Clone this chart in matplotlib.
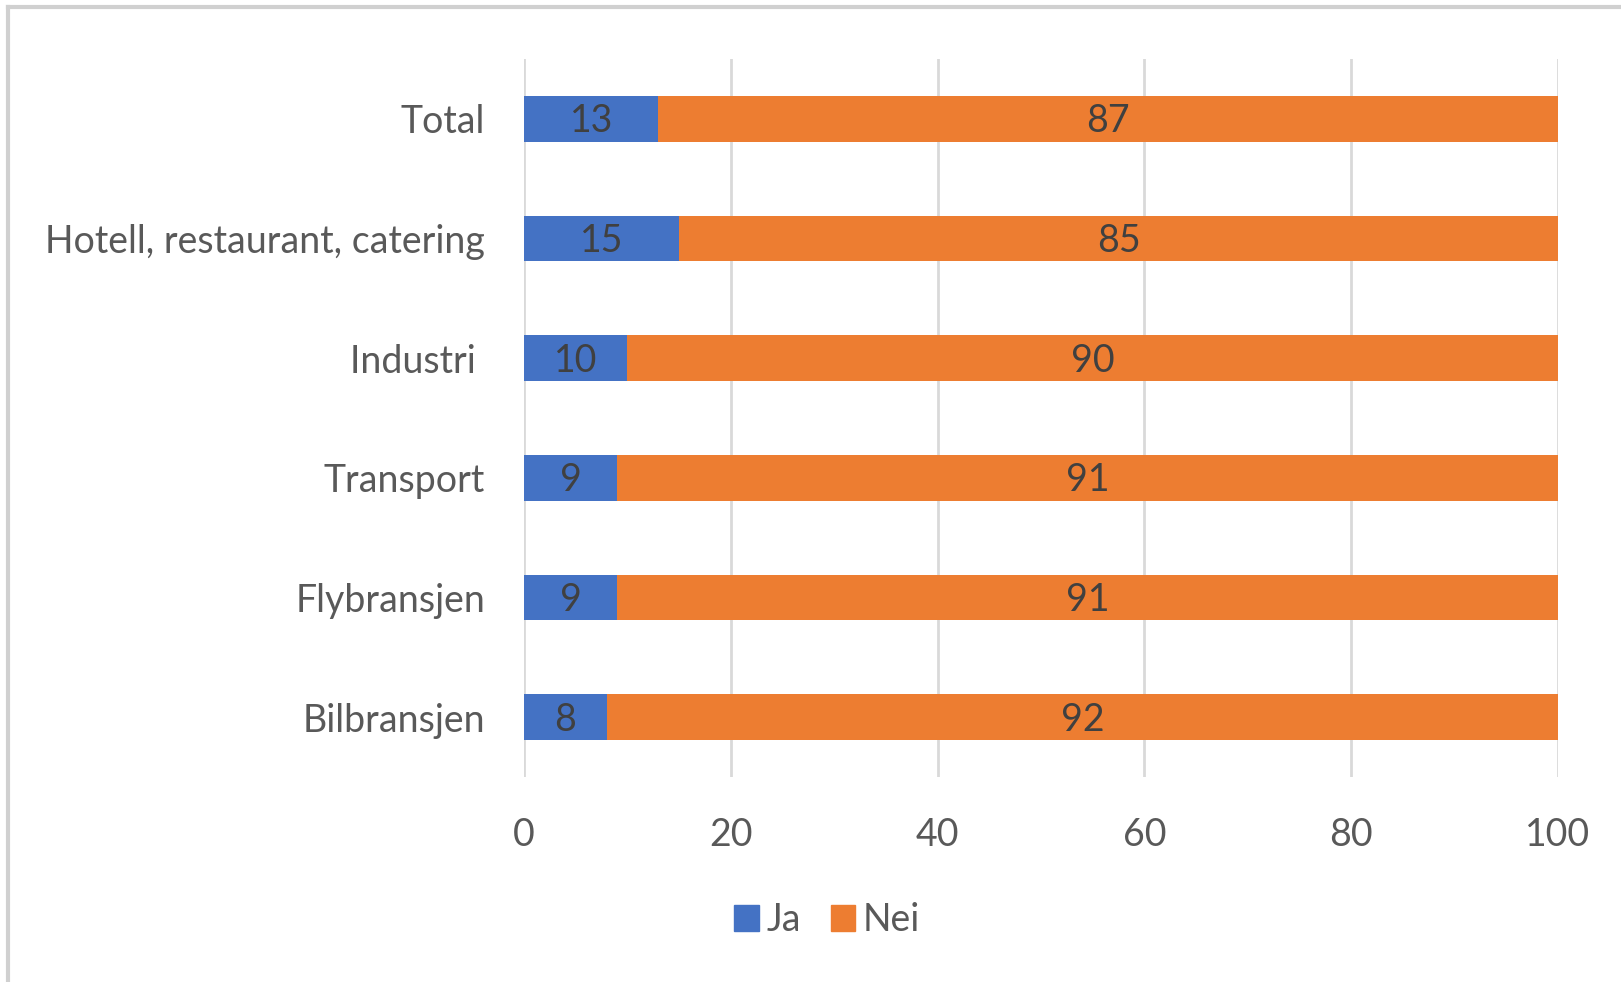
import matplotlib
matplotlib.use("Agg")
import matplotlib.pyplot as plt
from matplotlib.lines import Line2D
from matplotlib.patches import Patch

categories = ["Total", "Hotell, restaurant, catering", "Industri ", "Transport", "Flybransjen", "Bilbransjen"]
ja = [13, 15, 10, 9, 9, 8]
nei = [87, 85, 90, 91, 91, 92]
xticks = [0, 20, 40, 60, 80, 100]

BLUE = "#4472C4"
ORANGE = "#ED7D31"
TXT = "#595959"
GRID = "#D9D9D9"
FS = 27

plt.rcParams['font.family'] = ['Lato', 'DejaVu Sans']

W, H = 1621, 982
fig = plt.figure(figsize=(W / 100, H / 100), dpi=100)
ax = fig.add_axes([524 / W, 1 - 777 / H, (1558 - 524) / W, (777 - 59) / H])

y = list(range(len(categories)))
ax.barh(y, ja, height=0.38, color=BLUE, label="Ja", zorder=3)
ax.barh(y, nei, left=ja, height=0.38, color=ORANGE, label="Nei", zorder=3)

for i in y:
    ax.text(ja[i] / 2, i + 0.02, str(ja[i]), ha="center", va="center", fontsize=FS, color="#404040", zorder=4)
    ax.text(ja[i] + nei[i] / 2, i + 0.02, str(nei[i]), ha="center", va="center", fontsize=FS, color="#404040", zorder=4)

ax.set_xlim(0, 100)
ax.set_ylim(len(categories) - 0.5, -0.5)
ax.set_xticks(xticks)
ax.set_xticklabels([str(t) for t in xticks], fontsize=FS, color=TXT)
ax.set_yticks(y)
ax.set_yticklabels(categories, fontsize=FS, color=TXT)
ax.tick_params(axis="both", length=0)
ax.tick_params(axis="x", pad=29)
ax.tick_params(axis="y", pad=28)
ax.xaxis.grid(True, color=GRID, linewidth=2, zorder=0)
for s in ax.spines.values():
    s.set_visible(False)

handles = [Patch(color=BLUE, label="Ja"), Patch(color=ORANGE, label="Nei")]
fig.legend(handles=handles, loc="center", bbox_to_anchor=(827 / W, 1 - 920 / H), ncol=2, frameon=False,
           fontsize=FS, labelcolor=TXT, handlelength=0.65, handleheight=0.7, handletextpad=0.2, columnspacing=0.8)

# outer border
fig.add_artist(Line2D([8 / W, 1], [1 - 7 / H, 1 - 7 / H], color="#D0D0D0", linewidth=3, transform=fig.transFigure))
fig.add_artist(Line2D([8 / W, 8 / W], [0, 1 - 7 / H], color="#D0D0D0", linewidth=3, transform=fig.transFigure))

fig.savefig("out.png", dpi=100)
